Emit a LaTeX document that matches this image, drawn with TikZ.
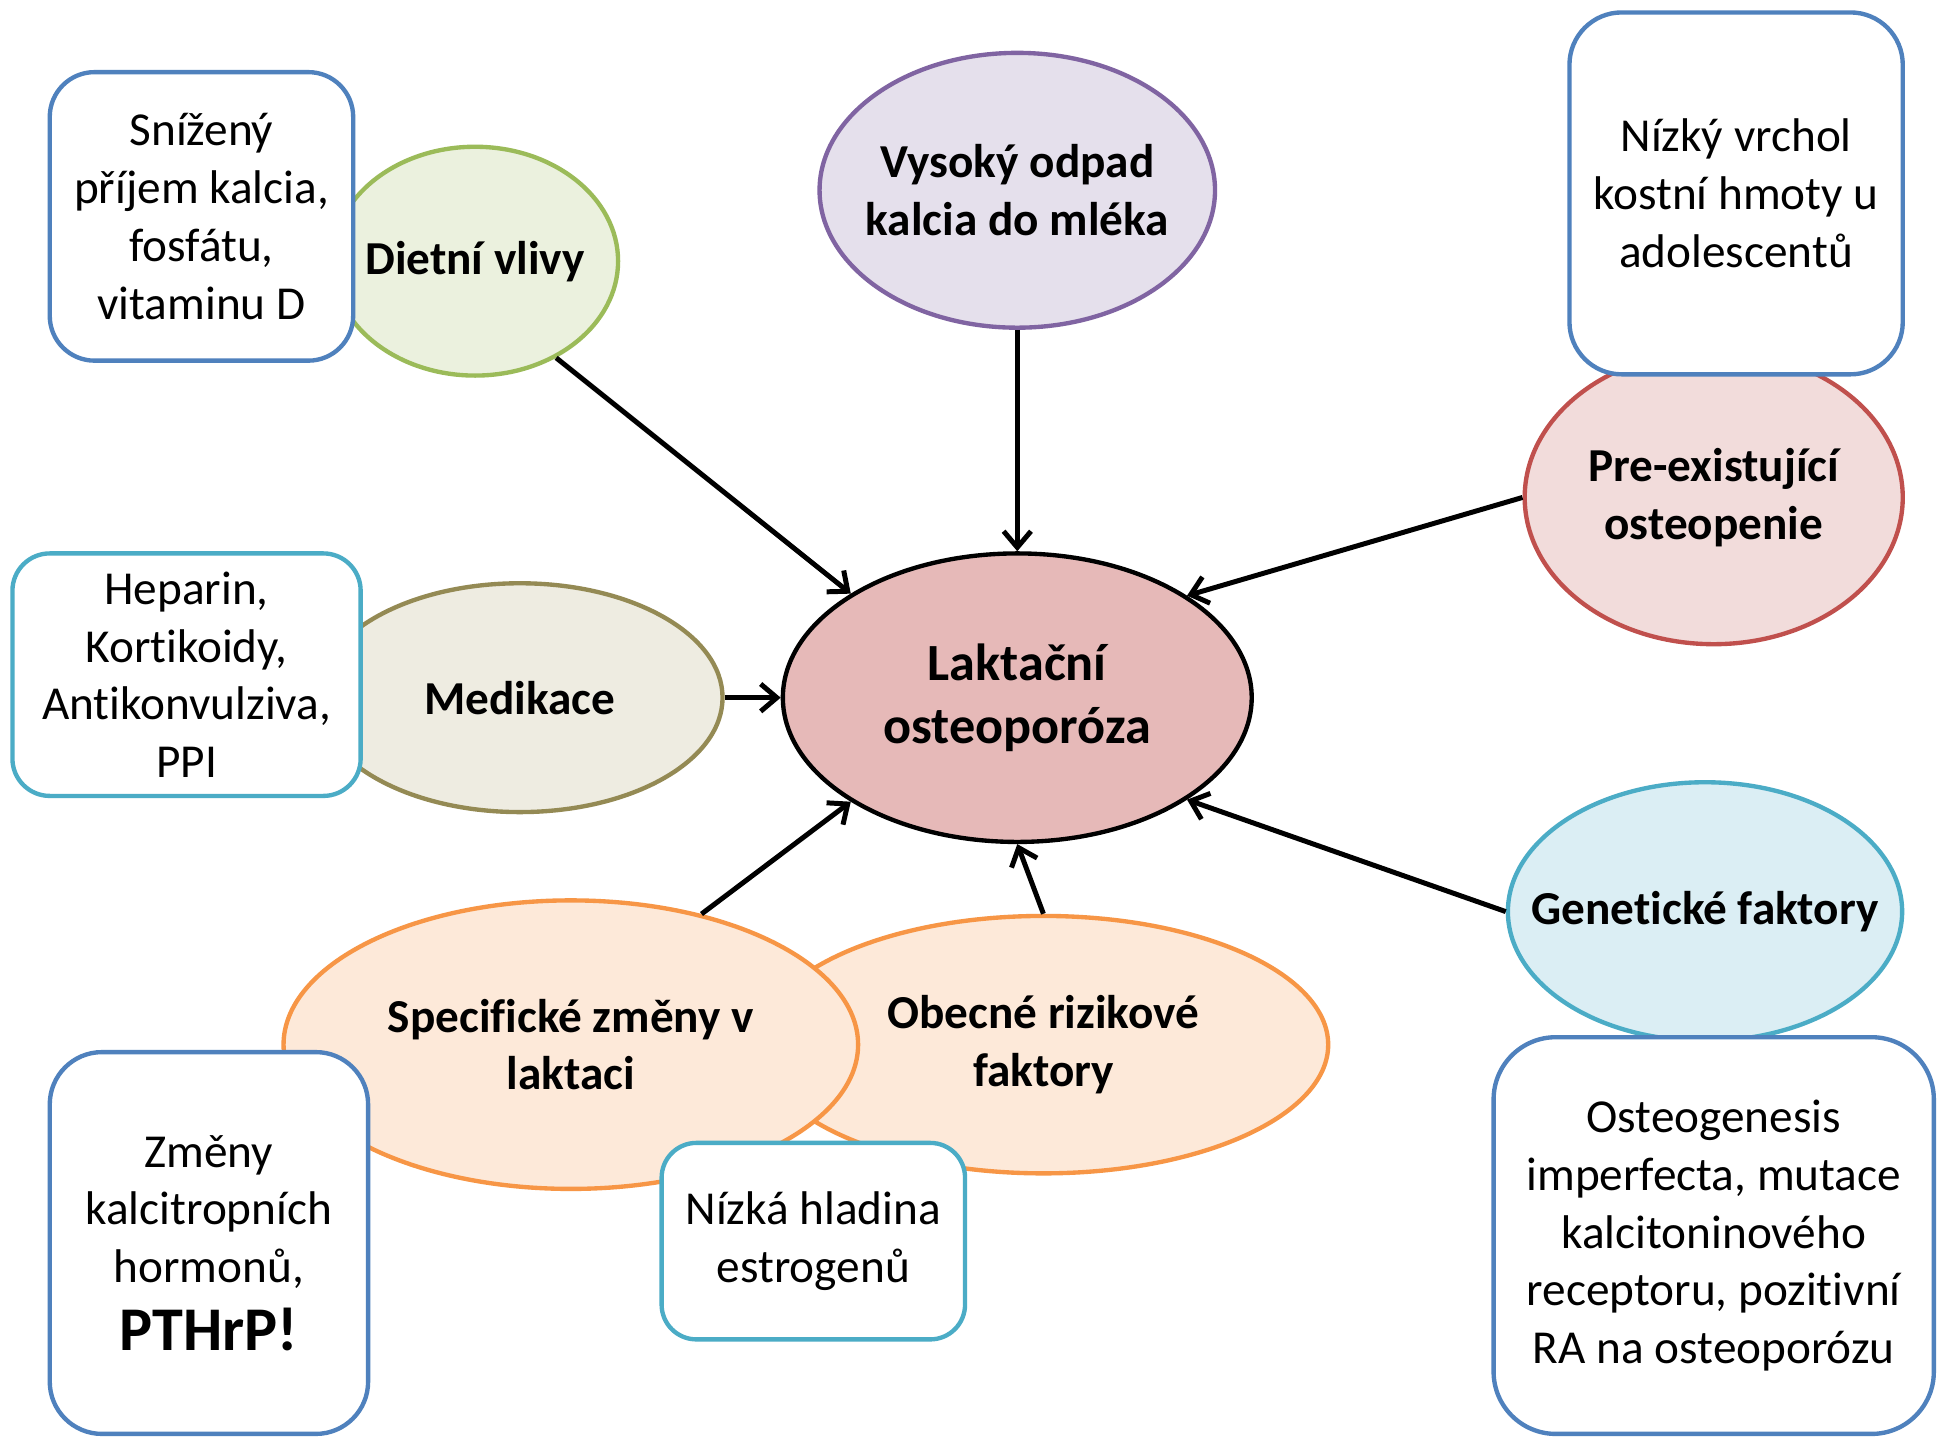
\documentclass[tikz,border=0pt]{standalone}
\usepackage{fontspec}
\setmainfont{Carlito}[Ligatures=NoCommon]
\usetikzlibrary{shapes.geometric,arrows.meta}
\definecolor{boxblue}{HTML}{4F81BD}
\definecolor{boxteal}{HTML}{4BACC6}
\definecolor{grnF}{HTML}{EBF1DE}\definecolor{grnD}{HTML}{9BBB59}
\definecolor{purF}{HTML}{E5E0EC}\definecolor{purD}{HTML}{8064A2}
\definecolor{redF}{HTML}{F2DCDB}\definecolor{redD}{HTML}{C0504D}
\definecolor{oliF}{HTML}{EEECE1}\definecolor{oliD}{HTML}{948A54}
\definecolor{cenF}{HTML}{E6B9B8}
\definecolor{teaF}{HTML}{DBEEF4}\definecolor{teaD}{HTML}{4BACC6}
\definecolor{oraF}{HTML}{FDE9D9}\definecolor{oraD}{HTML}{F79646}
\tikzset{
  ell/.style={ellipse, draw, line width=3.5pt, inner xsep=-200pt, inner ysep=-200pt, align=center,
    font=\bfseries\fontsize{38}{46.5}\selectfont},
  rbox/.style={rectangle, draw, fill=white, line width=3.5pt, align=center, inner sep=0pt,
    font=\fontsize{38}{46.5}\selectfont},
  arr/.style={line width=4pt, -{Straight Barb[length=13pt,width=22pt]}}
}
\begin{document}
\begin{tikzpicture}[x=1pt,y=-1pt]
\useasboundingbox[fill=white] (0,0) rectangle (1568,1156);
% ellipses
\node[ell, fill=oraF, draw=oraD, minimum width=458pt, minimum height=207pt] (obecne) at (839,840) {Obecné rizikové\\faktory};
\node[ell, fill=oraF, draw=oraD, minimum width=462pt, minimum height=232pt] (spec) at (459,840) {Specifické změny v\\laktaci};
\node[ell, fill=grnF, draw=grnD, minimum width=230pt, minimum height=184pt] (diet) at (382,210) {Dietní vlivy};
\node[ell, fill=purF, draw=purD, minimum width=318pt, minimum height=221pt] (vys) at (818,153) {Vysoký odpad\\kalcia do mléka};
\node[ell, fill=redF, draw=redD, minimum width=304pt, minimum height=236pt] (pre) at (1378,400) {Pre-existující\\osteopenie};
\node[ell, fill=oliF, draw=oliD, minimum width=326pt, minimum height=184pt] (med) at (418,561) {Medikace};
\node[ell, fill=teaF, draw=teaD, minimum width=317pt, minimum height=208pt] (gen) at (1371,733) {Genetické faktory};
\node[ell, fill=cenF, draw=black, minimum width=377pt, minimum height=232pt,
  font=\bfseries\fontsize{42}{51}\selectfont] (cent) at (818,561) {Laktační\\osteoporóza};
% boxes
\node[rbox, draw=boxblue, minimum width=244pt, minimum height=232pt, rounded corners=36pt] (sniz) at (162,174) {Snížený\\příjem kalcia,\\fosfátu,\\vitaminu D};
\node[rbox, draw=boxblue, minimum width=268pt, minimum height=291pt, rounded corners=42pt] (nizky) at (1396,155.5) {Nízký vrchol\\kostní hmoty u\\adolescentů};
\node[rbox, draw=boxteal, minimum width=280pt, minimum height=195pt, rounded corners=30pt] (hep) at (150,542.5) {Heparin,\\Kortikoidy,\\Antikonvulziva,\\PPI};
\node[rbox, draw=boxblue, minimum width=354pt, minimum height=319pt, rounded corners=50pt] (osteo) at (1378,993.5) {Osteogenesis\\imperfecta, mutace\\kalcitoninového\\receptoru, pozitivní\\RA na osteoporózu};
\node[rbox, draw=boxblue, minimum width=256pt, minimum height=307pt, rounded corners=42pt] (zmeny) at (168,999.5) {Změny\\kalcitropních\\hormonů,\\[8pt]{\bfseries\fontsize{50}{56}\selectfont PTHrP!}};
\node[rbox, draw=boxteal, minimum width=244pt, minimum height=158pt, rounded corners=28pt] (nizka) at (654,998) {Nízká hladina\\estrogenů};
% arrows
\draw[arr] (diet.-50) -- (cent.148);
\draw[arr] (vys.south) -- (cent.north);
\draw[arr] (pre.west) -- (cent.31);
\draw[arr] (med.east) -- (cent.west);
\draw[arr] (gen.west) -- (cent.-31);
\draw[arr] (obecne.north) -- (cent.south);
\draw[arr] (spec.45) -- (cent.212);
\end{tikzpicture}
\end{document}
